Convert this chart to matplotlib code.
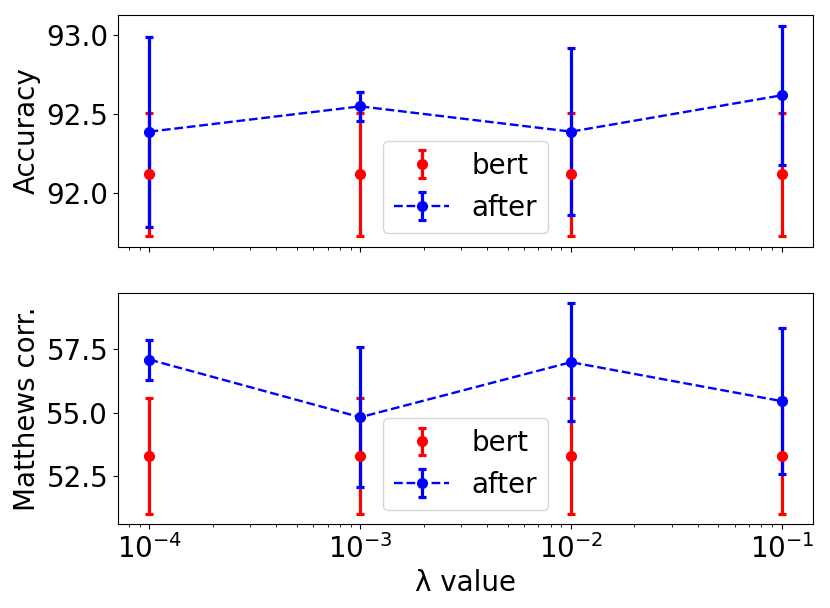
import numpy as np
import matplotlib.pyplot as plt

# lambda values and results
lambdas = [1e-4, 1e-3, 1e-2, 1e-1]

acc_bert = [92.12, 92.12, 92.12, 92.12]
acc_bert_err = [0.39, 0.39, 0.39, 0.39]
acc_after = [92.39, 92.55, 92.39, 92.62]
acc_after_err = [0.60, 0.09, 0.53, 0.44]

mcc_bert = [53.3, 53.3, 53.3, 53.3]
mcc_bert_err = [2.26, 2.26, 2.26, 2.26]
mcc_after = [57.08, 54.82, 56.98, 55.45]
mcc_after_err = [0.78, 2.74, 2.31, 2.86]

plt.rcParams['font.size'] = 20

fig, (ax1, ax2) = plt.subplots(2, 1, sharex=True, figsize=(8.3, 6.08), dpi=100)
fig.subplots_adjust(left=0.142, right=0.98, top=0.975, bottom=0.138, hspace=0.2)

style = dict(fmt='o', capsize=3, elinewidth=2.3, capthick=2.3, markersize=7)

ax1.errorbar(lambdas, acc_bert, yerr=acc_bert_err, color='red', label='bert', **style)
ax1.errorbar(lambdas, acc_after, yerr=acc_after_err, color='blue', linestyle='--',
             linewidth=1.7, label='after', **style)
ax1.set_ylabel('Accuracy')
ax1.legend(loc='lower center')

ax2.errorbar(lambdas, mcc_bert, yerr=mcc_bert_err, color='red', label='bert', **style)
ax2.errorbar(lambdas, mcc_after, yerr=mcc_after_err, color='blue', linestyle='--',
             linewidth=1.7, label='after', **style)
ax2.set_ylabel('Matthews corr.')
ax2.set_xscale('log')
ax2.set_xlabel('λ value')
ax2.legend(loc='lower center')

plt.savefig('out.png')
